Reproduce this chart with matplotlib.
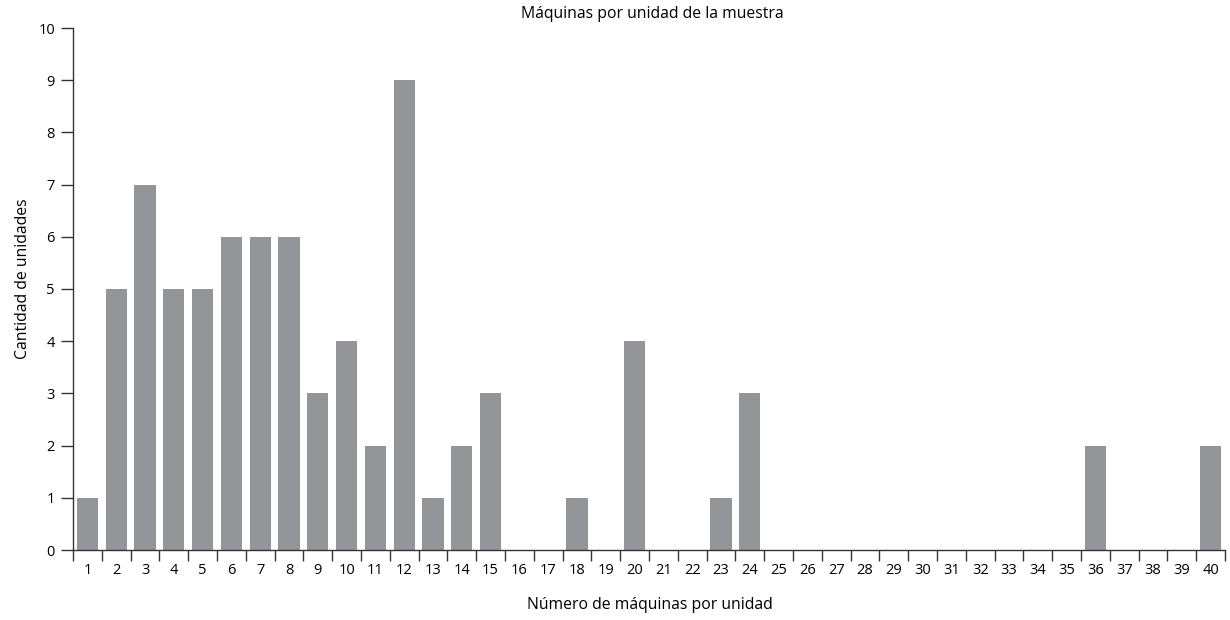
import matplotlib
matplotlib.use("Agg")
import matplotlib.pyplot as plt
from matplotlib.ticker import FixedLocator

# Data
maquinas = list(range(1, 41))
unidades = [1, 5, 7, 5, 5, 6, 6, 6, 3, 4,
            2, 9, 1, 2, 3, 0, 0, 1, 0, 4,
            0, 0, 1, 3, 0, 0, 0, 0, 0, 0,
            0, 0, 0, 0, 0, 2, 0, 0, 0, 2]

plt.rcParams["font.family"] = ["Open Sans", "DejaVu Sans"]

W, H = 1230, 620
fig = plt.figure(figsize=(W / 100, H / 100), dpi=100)
ax = fig.add_axes([73 / W, 1 - 550 / H, (1225 - 73) / W, (550 - 28) / H])

ax.bar(maquinas, unidades, width=0.74, color="#939598")

ax.set_xlim(0.5, 40.5)
ax.set_ylim(0, 10)
ax.set_yticks(range(0, 11))
ax.set_xticks(maquinas)
ax.set_xticklabels([str(m) for m in maquinas])
ax.xaxis.set_minor_locator(FixedLocator([m + 0.5 for m in range(0, 41)]))

for s in ("top", "right"):
    ax.spines[s].set_visible(False)
for s in ("left", "bottom"):
    ax.spines[s].set_color("#333333")
    ax.spines[s].set_linewidth(1.0)

ax.tick_params(axis="x", which="major", length=0, pad=9, labelsize=10.5)
ax.tick_params(axis="x", which="minor", length=8, width=1, color="#333333", direction="out")
ax.tick_params(axis="y", length=9, width=1, color="#333333", labelsize=10.5, pad=4)

# titles placed in figure pixels to match the reference
fig.text(652 / W, 1 - 14 / H, "Máquinas por unidad de la muestra",
         fontsize=11.3, ha="center", va="center")
fig.text(650 / W, 1 - 605 / H, "Número de máquinas por unidad",
         fontsize=11.3, ha="center", va="center")
fig.text(23 / W, 1 - 279 / H, "Cantidad de unidades",
         fontsize=11.3, ha="center", va="center", rotation=90)

fig.savefig("out.png", dpi=100)
